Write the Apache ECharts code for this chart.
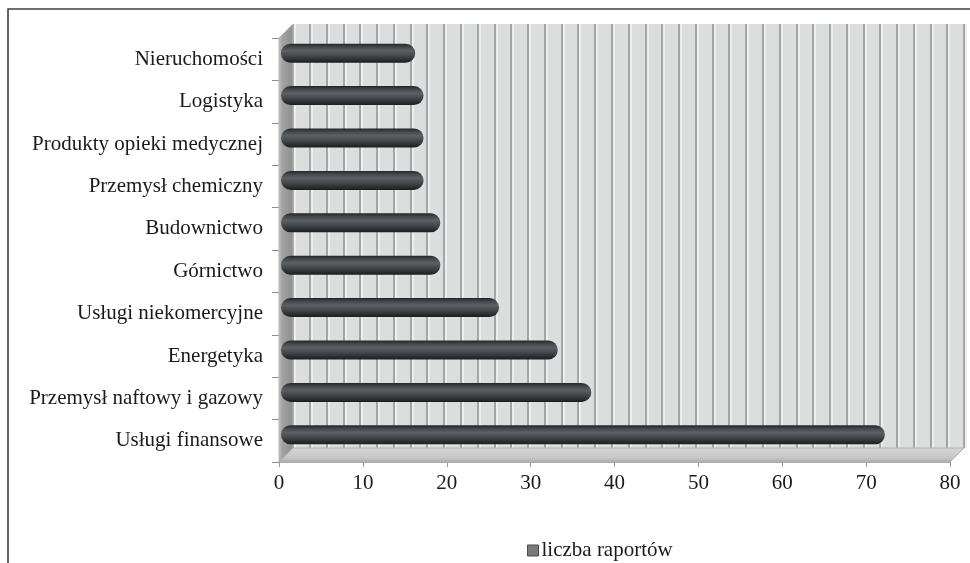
<!DOCTYPE html>
<html>
<head>
<meta charset="utf-8">
<script src="https://cdn.jsdelivr.net/npm/echarts@6/dist/echarts.min.js"></script>
<style>
  html, body { margin: 0; padding: 0; background: #ffffff; }
  #chart { width: 970px; height: 563px; }
</style>
</head>
<body>
<div id="chart"></div>
<script>
// Sectors (top to bottom) and number of reports per sector
const categories = [
  'Nieruchomości',
  'Logistyka',
  'Produkty opieki medycznej',
  'Przemysł chemiczny',
  'Budownictwo',
  'Górnictwo',
  'Usługi niekomercyjne',
  'Energetyka',
  'Przemysł naftowy i gazowy',
  'Usługi finansowe'
];
const reportCounts = [16, 17, 17, 17, 19, 19, 26, 33, 37, 72];
const seriesName = 'liczba raportów';
const axisMin = 0;
const axisMax = 80;
const axisStep = 10;
const wallGridStep = 2;

// Pseudo-3D plot box: front face, depth offset of the back wall
const FRONT = { left: 279, top: 38, width: 671, height: 424 };
const DEPTH = 14;
const BAR_SHIFT = { x: 2, y: -6 };

const FONT = '"Liberation Serif", "Times New Roman", serif';
const FONT_SIZE = 21;
const TEXT = '#1a1a1a';

const chart = echarts.init(document.getElementById('chart'), null, { renderer: 'canvas' });

const backGrid = {
  left: FRONT.left + DEPTH, top: FRONT.top - DEPTH,
  width: FRONT.width, height: FRONT.height,
  show: true, backgroundColor: '#dcdddd', borderWidth: 0
};
const frontGrid = {
  left: FRONT.left, top: FRONT.top, width: FRONT.width, height: FRONT.height,
  show: false
};
const barGrid = {
  left: FRONT.left + BAR_SHIFT.x, top: FRONT.top + BAR_SHIFT.y,
  width: FRONT.width, height: FRONT.height, show: false
};

const fb = FRONT.top + FRONT.height;          // front bottom
const fr = FRONT.left + FRONT.width;          // front right
const leftWall = [
  [FRONT.left, FRONT.top], [FRONT.left + DEPTH, FRONT.top - DEPTH],
  [FRONT.left + DEPTH, fb - DEPTH], [FRONT.left, fb]
];
const floor = [
  [FRONT.left, fb], [FRONT.left + DEPTH, fb - DEPTH],
  [fr + DEPTH, fb - DEPTH], [fr, fb]
];

const cylinder = new echarts.graphic.LinearGradient(0, 0, 0, 1, [
  { offset: 0, color: '#232527' },
  { offset: 0.18, color: '#46494b' },
  { offset: 0.38, color: '#5d6062' },
  { offset: 0.6, color: '#484b4d' },
  { offset: 0.85, color: '#2c2e30' },
  { offset: 1, color: '#1b1d1e' }
]);

const option = {
  animation: false,
  backgroundColor: '#ffffff',
  textStyle: { fontFamily: FONT, color: TEXT },
  grid: [backGrid, frontGrid, barGrid],
  graphic: [
    {
      type: 'rect', z: -10, silent: true,
      shape: { x: 8, y: 9, width: 1000, height: 600 },
      style: { fill: '#ffffff', stroke: '#3f3f3f', lineWidth: 1.6 }
    },
    {
      type: 'polygon', z: 1, silent: true,
      shape: { points: leftWall },
      style: {
        fill: new echarts.graphic.LinearGradient(0, 0, 1, 0, [
          { offset: 0, color: '#c4c4c4' },
          { offset: 0.25, color: '#a2a2a2' },
          { offset: 1, color: '#8e8e8e' }
        ]),
        stroke: '#b5b5b5', lineWidth: 1
      }
    },
    {
      type: 'polygon', z: 1, silent: true,
      shape: { points: floor },
      style: {
        fill: new echarts.graphic.LinearGradient(0, 0, 0, 1, [
          { offset: 0, color: '#d6d6d6' },
          { offset: 0.7, color: '#c6c6c6' },
          { offset: 1, color: '#a9a9a9' }
        ]),
        stroke: '#b0b0b0', lineWidth: 1
      }
    }
  ],
  legend: {
    left: 522, top: 535,
    itemWidth: 11, itemHeight: 11, itemGap: 10,
    icon: 'rect',
    textStyle: { fontFamily: FONT, fontSize: FONT_SIZE, color: TEXT, padding: [0, 0, 0, -2] },
    data: [{ name: seriesName, itemStyle: { color: '#7a7a7a', borderColor: '#4a4a4a', borderWidth: 1 } }]
  },
  xAxis: [
    {
      // back wall: vertical grid lines every 2
      gridIndex: 0, type: 'value', min: axisMin, max: axisMax, interval: wallGridStep,
      axisLine: { show: false }, axisTick: { show: false }, axisLabel: { show: false },
      splitLine: {
        show: true,
        lineStyle: { color: '#a3a6a8', width: 2, shadowColor: '#eeeeee', shadowOffsetX: 2, shadowBlur: 0 }
      }
    },
    {
      // front value axis with labels
      gridIndex: 1, type: 'value', min: axisMin, max: axisMax, interval: axisStep,
      axisLine: { show: true, lineStyle: { color: '#a8a8a8', width: 1 } },
      axisTick: { show: true, length: 5, lineStyle: { color: '#9a9a9a' } },
      axisLabel: { fontFamily: FONT, fontSize: FONT_SIZE, color: TEXT, margin: 11 },
      splitLine: { show: false }
    },
    {
      gridIndex: 2, type: 'value', min: axisMin, max: axisMax,
      show: false, splitLine: { show: false }
    }
  ],
  yAxis: [
    { gridIndex: 0, type: 'category', data: categories, inverse: true, show: false },
    {
      gridIndex: 1, type: 'category', data: categories, inverse: true,
      axisLine: { show: false },
      axisTick: { show: true, length: 7, lineStyle: { color: '#8c8c8c', width: 1 } },
      axisLabel: { fontFamily: FONT, fontSize: FONT_SIZE, color: TEXT, margin: 16 }
    },
    { gridIndex: 2, type: 'category', data: categories, inverse: true, show: false }
  ],
  series: [
    {
      name: seriesName,
      type: 'bar',
      xAxisIndex: 2, yAxisIndex: 2,
      data: reportCounts,
      barWidth: 19,
      z: 5,
      itemStyle: { color: cylinder, borderRadius: 9.5 }
    }
  ]
};

chart.setOption(option);
</script>
</body>
</html>
